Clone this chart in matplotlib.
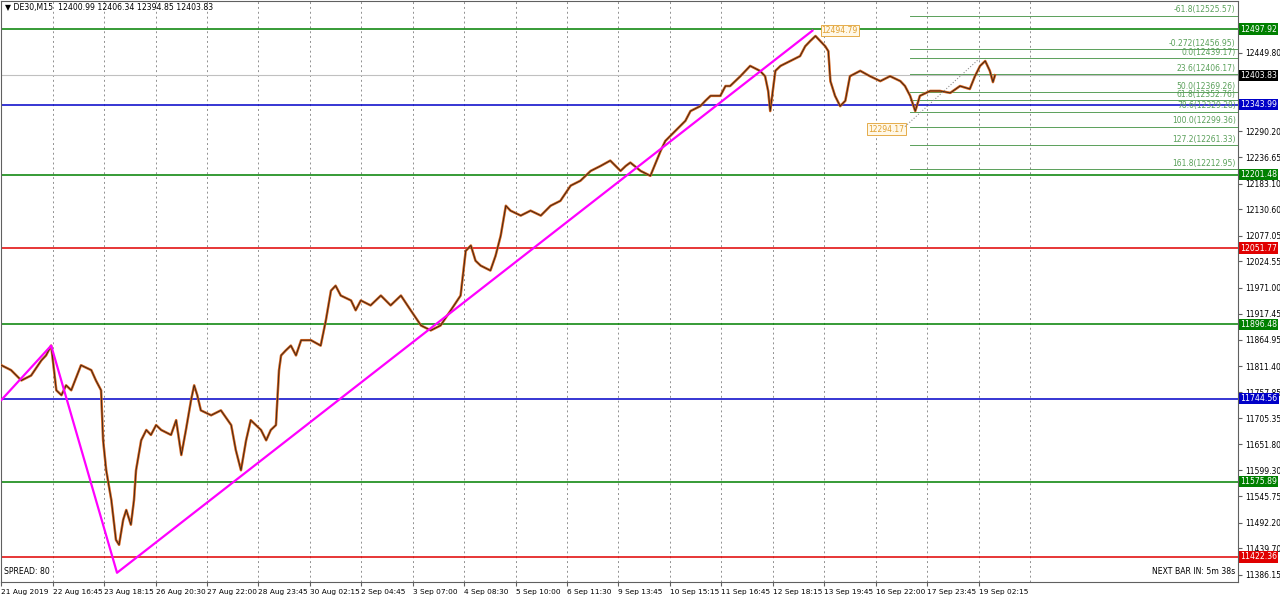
import matplotlib
matplotlib.use("Agg")
import matplotlib.pyplot as plt

# time in day-slot units (one slot per date label), price closes
times = [0, .19, .39, .58, .78, .87, .97, 1.07, 1.17, 1.26, 1.36, 1.55, 1.75, 1.84, 1.94, 1.98, 2.04, 2.14,
         2.23, 2.29, 2.37, 2.43, 2.52, 2.58, 2.62, 2.72, 2.82, 2.91, 3.01, 3.11, 3.30, 3.40, 3.50, 3.59, 3.69,
         3.75, 3.81, 3.88, 4.08, 4.27, 4.47, 4.56, 4.66, 4.76, 4.85, 4.95, 5.05, 5.15, 5.24, 5.34, 5.40, 5.44,
         5.53, 5.63, 5.73, 5.83, 6.02, 6.21, 6.31, 6.41, 6.50, 6.60, 6.80, 6.89, 6.99, 7.18, 7.38, 7.57, 7.77,
         7.96, 8.16, 8.35, 8.54, 8.74, 8.93, 9.03, 9.13, 9.22, 9.32, 9.51, 9.61, 9.71, 9.81, 9.90, 10.10, 10.29,
         10.49, 10.68, 10.87, 11.07, 11.26, 11.46, 11.65, 11.84, 12.04, 12.14, 12.23, 12.43, 12.62, 12.82, 12.91,
         13.11, 13.30, 13.40, 13.59, 13.69, 13.79, 13.98, 14.08, 14.17, 14.27, 14.37, 14.47, 14.56, 14.75, 14.85,
         14.91, 14.95, 15.05, 15.15, 15.34, 15.53, 15.63, 15.73, 15.83, 15.92, 16.02, 16.08, 16.12, 16.21, 16.31,
         16.41, 16.50, 16.70, 16.89, 17.09, 17.28, 17.48, 17.57, 17.67, 17.77, 17.86, 18.06, 18.25, 18.45, 18.64,
         18.83, 18.93, 19.03, 19.13, 19.22, 19.28, 19.32]
closes = [11813, 11803, 11782, 11792, 11823, 11833, 11853, 11762, 11752, 11772, 11762, 11813, 11803, 11782,
          11762, 11660, 11599, 11538, 11457, 11447, 11498, 11518, 11488, 11538, 11599, 11660, 11681, 11671,
          11691, 11681, 11671, 11701, 11630, 11681, 11742, 11772, 11752, 11721, 11711, 11721, 11691, 11640,
          11599, 11660, 11701, 11691, 11681, 11660, 11681, 11691, 11803, 11833, 11843, 11853, 11833, 11864,
          11864, 11853, 11904, 11965, 11975, 11955, 11945, 11925, 11945, 11935, 11955, 11935, 11955, 11925,
          11894, 11884, 11894, 11925, 11955, 12046, 12057, 12026, 12016, 12006, 12036, 12077, 12138, 12128,
          12118, 12128, 12118, 12138, 12148, 12179, 12189, 12209, 12219, 12230, 12209, 12219, 12226, 12209,
          12199, 12250, 12270, 12291, 12311, 12331, 12341, 12352, 12362, 12362, 12382, 12382, 12392, 12402,
          12413, 12423, 12413, 12402, 12372, 12331, 12413, 12423, 12433, 12443, 12463, 12474, 12484, 12474,
          12463, 12453, 12392, 12362, 12341, 12352, 12402, 12413, 12402, 12392, 12402, 12392, 12382, 12362,
          12331, 12362, 12372, 12372, 12368, 12382, 12376, 12402, 12423, 12433, 12413, 12390, 12404]

date_labels = ["21 Aug 2019", "22 Aug 16:45", "23 Aug 18:15", "26 Aug 20:30", "27 Aug 22:00", "28 Aug 23:45",
               "30 Aug 02:15", "2 Sep 04:45", "3 Sep 07:00", "4 Sep 08:30", "5 Sep 10:00", "6 Sep 11:30",
               "9 Sep 13:45", "10 Sep 15:15", "11 Sep 16:45", "12 Sep 18:15", "13 Sep 19:45", "16 Sep 22:00",
               "17 Sep 23:45", "19 Sep 02:15"]

price_ticks = [12449.80, 12290.20, 12236.65, 12183.10, 12130.60, 12077.05, 12024.55, 11971.00, 11917.45,
               11864.95, 11811.40, 11757.85, 11705.35, 11651.80, 11599.30, 11545.75, 11492.20, 11439.70, 11386.15]

levels = [12497.92, 12343.99, 12201.48, 12051.77, 11896.48, 11744.56, 11575.89, 11422.36]
level_colors = ["#008000", "#0000c8", "#008000", "#e00000", "#008000", "#0000c8", "#008000", "#e00000"]

fib_names = ["-61.8", "-0.272", "0.0", "23.6", "50.0", "61.8", "78.6", "100.0", "127.2", "161.8"]
fib_prices = [12525.57, 12456.95, 12439.17, 12406.17, 12369.26, 12352.76, 12329.28, 12299.36, 12261.33, 12212.95]

zz_t = [0, 0.97, 2.25, 15.77]
zz_p = [11742, 11853, 11390, 12494.79]

current = 12403.83
x_end = 24.04

fig = plt.figure(figsize=(12.8, 5.98), dpi=100)
ax = fig.add_axes([0.001, 0.027, 0.966, 0.971])
ax.set_xlim(0, x_end)
ax.set_ylim(11371.5, 12554.9)

for i in range(len(date_labels)):
    ax.axvline(i, color="#909090", ls=(0, (2, 3)), lw=0.7, zorder=0)
ax.axvline(20, color="#909090", ls=(0, (2, 3)), lw=0.7, zorder=0)

ax.axhline(current, color="#c0c0c0", lw=0.8, zorder=1)
for lv, c in zip(levels, level_colors):
    ax.axhline(lv, color=c, lw=1.1, zorder=2)

ax.plot(times, closes, color="#d0601a", lw=1.8, zorder=3)
ax.plot(times, closes, color="#1a1a1a", lw=0.5, zorder=3)
ax.plot(zz_t, zz_p, color="#ff00ff", lw=1.6, zorder=4)
ax.plot([17.57, 19.03], [12299.36, 12439.17], color="#909090", ls=":", lw=0.8, zorder=4)

for name, p in zip(fib_names, fib_prices):
    ax.plot([17.67, x_end], [p, p], color="#5aa05a", lw=0.7, zorder=2)
    ax.text(x_end - 0.04, p + 3, f"{name}({p:.2f})", ha="right", va="bottom", fontsize=5.5, color="#5aa05a")

for t, p, txt in [(15.95, 12494.79, "12494.79"), (16.86, 12294.17, "12294.17")]:
    ax.text(t, p, txt, fontsize=5.5, color="#e0a030", ha="left", va="center",
            bbox=dict(boxstyle="square,pad=0.15", fc="#fff8e8", ec="#e0a030", lw=0.6))

ax.set_xticks(range(len(date_labels)))
ax.set_xticklabels(date_labels, fontsize=5.3, ha="left")
ax.yaxis.tick_right()
ax.set_yticks(price_ticks)
ax.set_yticklabels([f"{v:.2f}" for v in price_ticks], fontsize=5.5)
ax.tick_params(length=3, pad=2, color="#606060")
for s in ax.spines.values():
    s.set_color("#606060")

for lv, c in list(zip(levels, level_colors)) + [(current, "#000000")]:
    ax.text(1.002, lv, f"{lv:.2f}", transform=ax.get_yaxis_transform(), fontsize=5.6, color="white",
            va="center", ha="left", zorder=10,
            bbox=dict(boxstyle="square,pad=0.15", fc=c, ec="none"))

ax.text(0.003, 0.997, "▼ DE30,M15  12400.99 12406.34 12394.85 12403.83", transform=ax.transAxes,
        fontsize=5.6, va="top", ha="left")
ax.text(0.002, 0.01, "SPREAD: 80", transform=ax.transAxes, fontsize=5.6, va="bottom")
ax.text(0.998, 0.01, "NEXT BAR IN: 5m 38s", transform=ax.transAxes, fontsize=5.6, va="bottom", ha="right")

fig.savefig("out.png", dpi=100)
